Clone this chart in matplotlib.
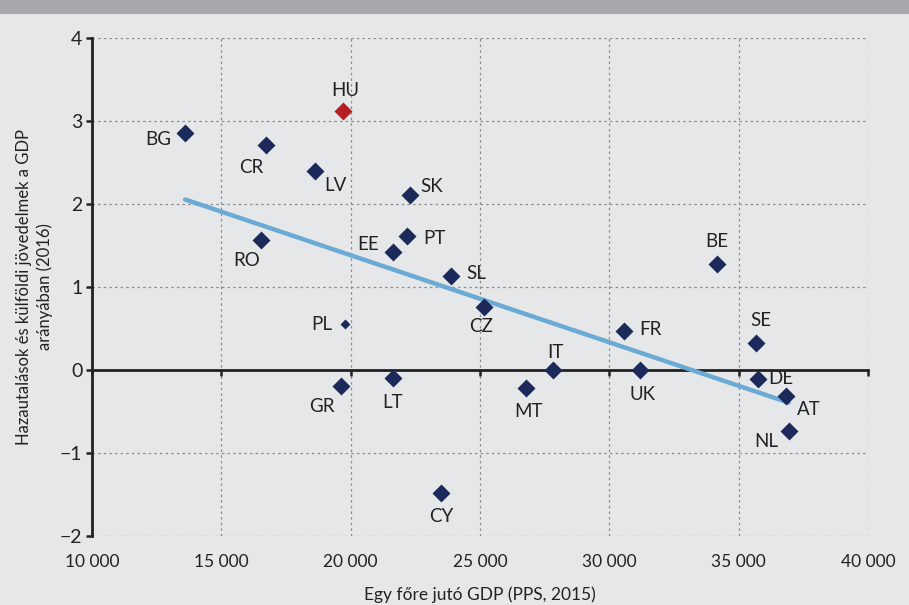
import numpy as np
import matplotlib.pyplot as plt
from matplotlib.patches import Rectangle
from matplotlib.ticker import FuncFormatter

plt.rcParams['font.family'] = ['Lato', 'DejaVu Sans']

# Data
countries = ['BG', 'CR', 'HU', 'LV', 'SK', 'RO', 'PT', 'EE', 'SL', 'CZ', 'PL',
             'GR', 'LT', 'MT', 'IT', 'FR', 'UK', 'BE', 'SE', 'DE', 'AT', 'NL', 'CY']
gdp_pps = [13600, 16730, 19700, 18620, 22290, 16530, 22180, 21640, 23880, 25150, 19780,
           19630, 21640, 26780, 27820, 30570, 31180, 34160, 35670, 35760, 36830, 36930, 23490]
remit = [2.86, 2.71, 3.12, 2.40, 2.11, 1.57, 1.61, 1.42, 1.13, 0.76, 0.55,
         -0.19, -0.10, -0.22, 0.00, 0.47, 0.00, 1.28, 0.32, -0.11, -0.31, -0.74, -1.48]

x_ticks = [10000, 15000, 20000, 25000, 30000, 35000, 40000]
y_ticks = [-2, -1, 0, 1, 2, 3, 4]

# label offsets in pixels (dx, dy)
label_offsets = {
    'BG': (-27, -7), 'CR': (-15, -22), 'HU': (2, 21), 'LV': (20, -15),
    'SK': (22, 8), 'RO': (-14, -21), 'PT': (27, -2), 'EE': (-25, 8),
    'SL': (25, 3), 'CZ': (-3, -20), 'PL': (-23, 0), 'GR': (-19, -21),
    'LT': (-1, -24), 'MT': (2, -23), 'IT': (2, 18), 'FR': (26, 1),
    'UK': (3, -25), 'BE': (0, 22), 'SE': (5, 23), 'DE': (22, 1),
    'AT': (23, -14), 'NL': (-22, -10), 'CY': (0, -24),
}

bg = '#e6e7e8'
navy = '#1b2a5a'
red = '#b22024'
trend_col = '#6aaad4'
txt = '#222222'

fig = plt.figure(figsize=(9.09, 6.05), dpi=100, facecolor=bg)
fig.patches.append(Rectangle((0, 1 - 14 / 605), 1, 14 / 605, transform=fig.transFigure,
                             facecolor='#a6a8ab', edgecolor='none'))
ax = fig.add_axes([92 / 909, 1 - 536 / 605, (868 - 92) / 909, (536 - 38) / 605])
ax.set_facecolor(bg)

x = np.array(gdp_pps, dtype=float)
y = np.array(remit)

# trend line (OLS fit)
k, b = np.polyfit(x, y, 1)
xs = np.array([x.min(), x.max()])
ax.plot(xs, k * xs + b, color=trend_col, lw=3.2, zorder=3, solid_capstyle='round')

for c, xi, yi in zip(countries, x, y):
    col = red if c == 'HU' else navy
    ms = 5.3 if c == 'PL' else 8.8
    ax.plot(xi, yi, marker='D', ms=ms, color=col, mec='none', zorder=4, ls='none')
    dx, dy = label_offsets[c]
    ax.annotate(c, (xi, yi), xytext=(dx, dy), textcoords='offset pixels',
                ha='center', va='center', fontsize=13.5, color=txt, zorder=5)

ax.set_xlim(10000, 40000)
ax.set_ylim(-2, 4)
ax.set_xticks(x_ticks)
ax.set_yticks(y_ticks)
ax.grid(True, color='#8c8c8c', ls=(0, (2, 2.5)), lw=0.9)
ax.set_axisbelow(True)

for s in ['top', 'right']:
    ax.spines[s].set_visible(False)
ax.spines['left'].set_linewidth(2)
ax.spines['bottom'].set_position(('data', 0))
ax.spines['bottom'].set_linewidth(2)
ax.spines['bottom'].set_color(txt)
ax.spines['left'].set_color(txt)
ax.spines['bottom'].set_zorder(2)
ax.tick_params(axis='x', direction='out', length=4, width=1.8, color=txt, labelbottom=False)
ax.tick_params(axis='y', direction='out', length=4, width=1.8, color=txt,
               labelsize=14, labelcolor=txt, pad=3)

sec = ax.secondary_xaxis(0)
sec.spines['bottom'].set_visible(False)
sec.set_xticks(x_ticks)
sec.xaxis.set_major_formatter(FuncFormatter(lambda v, p: f'{int(v):,}'.replace(',', ' ')))
sec.tick_params(length=0, labelsize=12.5, labelcolor=txt, pad=13)
sec.set_xlabel('Egy főre jutó GDP (PPS, 2015)', fontsize=12.5, color=txt, labelpad=12)

ax.set_ylabel('Hazautalások és külföldi jövedelmek a GDP\narányában (2016)',
              fontsize=12, color=txt, labelpad=5, linespacing=1.3)

fig.savefig('out.png', dpi=100, facecolor=bg)
